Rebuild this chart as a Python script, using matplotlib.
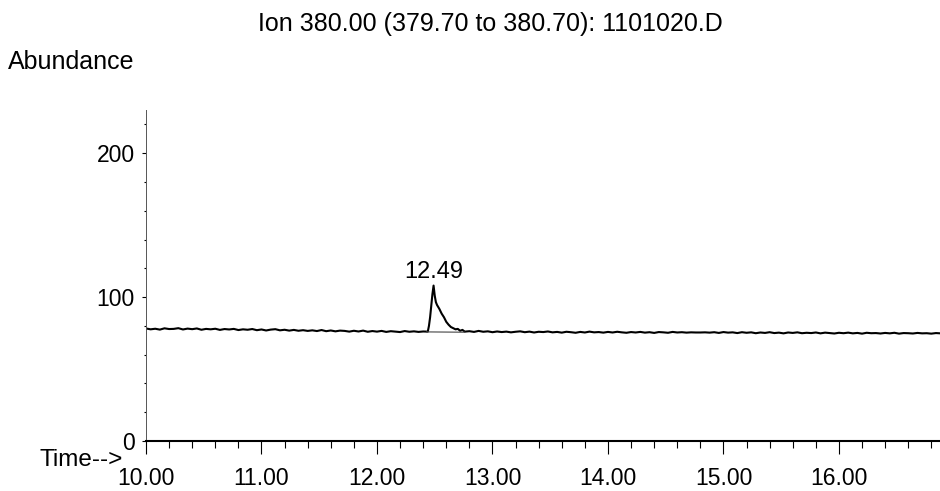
import numpy as np
import matplotlib
matplotlib.use("Agg")
import matplotlib.pyplot as plt
from matplotlib.ticker import MultipleLocator, FormatStrFormatter

plt.rcParams["font.family"] = ["Liberation Sans", "DejaVu Sans"]

# trace before the peak, sampled every 0.04 min from 10.00
pre_start = 10.00
pre_abund = [
    78.2, 77.6, 78.0, 77.4, 78.3, 77.8, 77.9, 78.4, 77.5, 78.1,
    77.7, 78.2, 77.3, 77.9, 77.6, 78.0, 77.2, 77.8, 77.5, 77.9,
    77.1, 77.6, 77.3, 77.8, 77.0, 77.5, 76.8, 77.4, 77.7, 76.9,
    77.3, 76.7, 77.2, 76.6, 77.0, 76.5, 76.9, 76.4, 77.1, 76.3,
    76.8, 76.2, 76.7, 76.5, 76.0, 76.6, 76.1, 76.7, 75.9, 76.4,
    76.0, 76.5, 75.8, 76.3, 76.0, 75.7, 76.4, 75.9, 76.2, 75.8, 76.1,
]

# peak region
peak_time = [12.44, 12.45, 12.46, 12.47, 12.48, 12.49, 12.50, 12.51, 12.52,
             12.54, 12.56, 12.58, 12.60, 12.62, 12.64, 12.66, 12.68, 12.70,
             12.72, 12.74, 12.76]
peak_abund = [76.0, 80.0, 86.0, 94.0, 102.0, 108.0, 101.0, 96.5, 94.5,
              91.8, 88.5, 86.0, 82.8, 80.8, 79.2, 78.4, 77.6, 77.9,
              76.6, 77.2, 76.0]

# trace after the peak, sampled every 0.04 min from 12.80
post_start = 12.80
post_abund = [
    76.3, 75.8, 76.5, 75.9, 76.2, 75.6, 76.1, 75.7, 76.0, 75.5,
    75.9, 76.2, 75.6, 76.0, 75.4, 75.9, 75.7, 76.1, 75.5, 75.8,
    75.3, 75.9, 75.6, 75.2, 75.8, 75.4, 76.0, 75.5, 75.7, 75.3,
    75.8, 75.4, 75.9, 75.5, 75.2, 75.7, 75.4, 75.8, 75.3, 75.6,
    75.1, 75.7, 75.5, 75.2, 75.8, 75.4, 75.6, 75.3, 75.5, 75.4,
    75.4, 75.5, 75.3, 75.6, 75.1, 75.7, 75.3, 75.5, 75.0, 75.6,
    75.2, 75.5, 74.9, 75.4, 75.1, 75.6, 75.0, 75.3, 74.8, 75.4,
    75.1, 75.5, 74.9, 75.2, 75.0, 75.4, 74.8, 75.3, 75.0, 74.7,
    75.2, 74.9, 75.3, 74.8, 75.1, 74.6, 75.2, 74.9, 75.0, 74.7,
    75.1, 74.8, 75.2, 74.6, 75.0, 74.9, 74.7, 75.1, 74.8, 74.9,
    74.6, 75.0, 74.8,
]

peak_rt = 12.49
integ_time = [12.43, 12.76]
integ_abund = [75.8, 75.6]

pre_time = pre_start + 0.04 * np.arange(len(pre_abund))
post_time = post_start + 0.04 * np.arange(len(post_abund))
time = np.concatenate([pre_time, peak_time, post_time])
abund = np.concatenate([pre_abund, peak_abund, post_abund])

fig = plt.figure(figsize=(9.4, 4.91), dpi=100)
ax = fig.add_axes([146 / 940, 50 / 491, 1 - 146 / 940, 331 / 491])

ax.plot(time, abund, color="black", lw=1.5)
ax.plot(integ_time, integ_abund, color="#444444", lw=0.8)
ax.text(peak_rt, 113.5, f"{peak_rt:.2f}", ha="center", va="baseline", fontsize=17)

ax.set_xlim(10.0, 16.875)
ax.set_ylim(0, 230)

ax.spines["top"].set_visible(False)
ax.spines["right"].set_visible(False)
ax.spines["left"].set_color("#555555")
ax.spines["left"].set_linewidth(0.7)
ax.spines["bottom"].set_linewidth(1.5)

ax.xaxis.set_major_locator(MultipleLocator(1.0))
ax.xaxis.set_minor_locator(MultipleLocator(0.2))
ax.xaxis.set_major_formatter(FormatStrFormatter("%.2f"))
ax.yaxis.set_major_locator(MultipleLocator(100))
ax.yaxis.set_minor_locator(MultipleLocator(20))

ax.tick_params(axis="x", which="major", length=9.5, width=0.8, pad=9.5, labelsize=16.5)
ax.tick_params(axis="x", which="minor", length=5, width=0.8)
ax.tick_params(axis="y", which="major", length=3, width=0.8, pad=5, labelsize=16.5)
ax.tick_params(axis="y", which="minor", length=1.5, width=0.8)

fig.text(490 / 940, 1 - 31 / 491, "Ion 380.00 (379.70 to 380.70): 1101020.D",
         ha="center", va="baseline", fontsize=18)
fig.text(8 / 940, 1 - 69 / 491, "Abundance", ha="left", va="baseline", fontsize=18)
fig.text(40 / 940, 1 - 466 / 491, "Time-->", ha="left", va="baseline", fontsize=17.5)

fig.savefig("out.png", dpi=100)
